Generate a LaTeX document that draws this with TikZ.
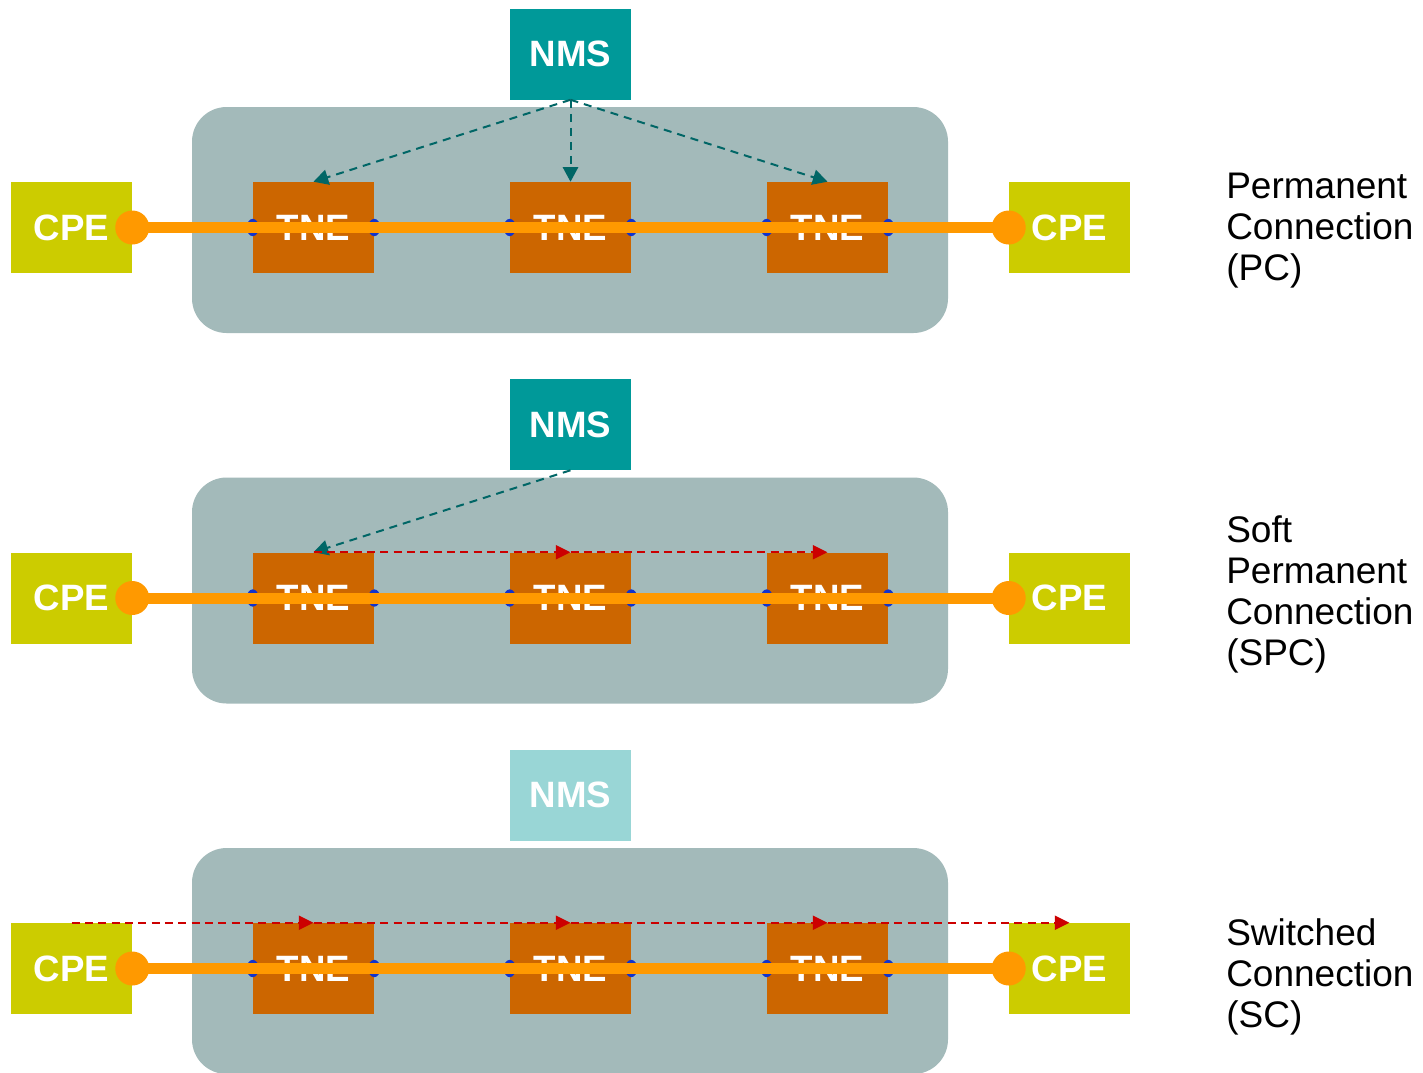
\documentclass[tikz,border=0pt]{standalone}
\usepackage{fontspec}
\setmainfont{Liberation Sans}
\usetikzlibrary{arrows.meta}
\definecolor{nmsc}{HTML}{009999}
\definecolor{nmslight}{HTML}{99D6D6}
\definecolor{tnec}{HTML}{CC6600}
\definecolor{cpec}{HTML}{CCCC00}
\definecolor{panelc}{HTML}{A3BABA}
\definecolor{linec}{HTML}{FF9900}
\definecolor{tealarr}{HTML}{006666}
\definecolor{redarr}{HTML}{CC0000}
\definecolor{portc}{HTML}{1133CC}
\tikzset{
  box/.style={minimum width=90.75pt,minimum height=68.25pt,inner sep=0pt,text=white,
    font=\fontsize{27.5}{30}\selectfont\bfseries},
  nmsbox/.style={box,fill=nmsc},
  tnebox/.style={box,fill=tnec},
  cpebox/.style={box,fill=cpec},
  panel/.style={fill=panelc,rounded corners=26pt},
  conn/.style={draw=linec,line width=8.25pt},
  port/.style={fill=portc},
  mgmt/.style={draw=tealarr,line width=1.5pt,dash pattern=on 6pt off 4.5pt,
    -{Triangle[length=11pt,width=11.5pt]}},
  sig/.style={draw=redarr,line width=1.5pt,dash pattern=on 6pt off 4pt,
    -{Triangle[length=11pt,width=10.5pt]}},
  lbl/.style={anchor=west,align=left,inner sep=0pt,font=\fontsize{27.75}{30.75}\selectfont}
}
\begin{document}
\begin{tikzpicture}[x=0.75pt,y=-0.75pt]
\clip (0,0) rectangle (1423,1072);
\fill[white] (0,0) rectangle (1423,1072);
\foreach \p/\dy in {1/0,2/370.5,3/741}{
  \fill[panel] (192,107+\dy) rectangle (948,333+\dy);
  \node[cpebox] (cpeL-\p) at (71.5,227.5+\dy) {CPE};
  \node[cpebox] (cpeR-\p) at (1069.5,227.5+\dy) {CPE};
  \node[tnebox] (tneA-\p) at (313.5,227.5+\dy) {TNE};
  \node[tnebox] (tneB-\p) at (570.5,227.5+\dy) {TNE};
  \node[tnebox] (tneC-\p) at (827.5,227.5+\dy) {TNE};
  \foreach \t in {A,B,C}{
    \fill[port] (tne\t-\p.west) ellipse [x radius=4.5pt,y radius=6.5pt];
    \fill[port] (tne\t-\p.east) ellipse [x radius=4.5pt,y radius=6.5pt];
  }
  \draw[conn] (cpeL-\p.east) -- (cpeR-\p.west);
  \fill[linec] (cpeL-\p.east) circle [radius=12.75pt];
  \fill[linec] (cpeR-\p.west) circle [radius=12.75pt];
}
\node[nmsbox] (nms-1) at (570.5,54) {NMS};
\node[nmsbox] (nms-2) at (570.5,424.5) {NMS};
\node[box,fill=nmslight] (nms-3) at (570.5,795) {NMS};
% PC
\draw[mgmt] (nms-1.south) -- (tneA-1.north);
\draw[mgmt] (nms-1.south) -- (tneB-1.north);
\draw[mgmt] (nms-1.south) -- (tneC-1.north);
% SPC
\draw[mgmt] (nms-2.south) -- (tneA-2.north);
\draw[sig] (tneA-2.north) -- (tneB-2.north);
\draw[sig] (tneB-2.north) -- (tneC-2.north);
% SC
\draw[sig] (cpeL-3.north) -- (tneA-3.north);
\draw[sig] (tneA-3.north) -- (tneB-3.north);
\draw[sig] (tneB-3.north) -- (tneC-3.north);
\draw[sig] (tneC-3.north) -- (cpeR-3.north);
% labels
\node[lbl] (lab1) at (1226,231) {Permanent\\Connection\\(PC)};
\node[lbl] (lab2) at (1226,594) {Soft\\Permanent\\Connection\\(SPC)};
\node[lbl] (lab3) at (1226,977) {Switched\\Connection\\(SC)};
\end{tikzpicture}
\end{document}
